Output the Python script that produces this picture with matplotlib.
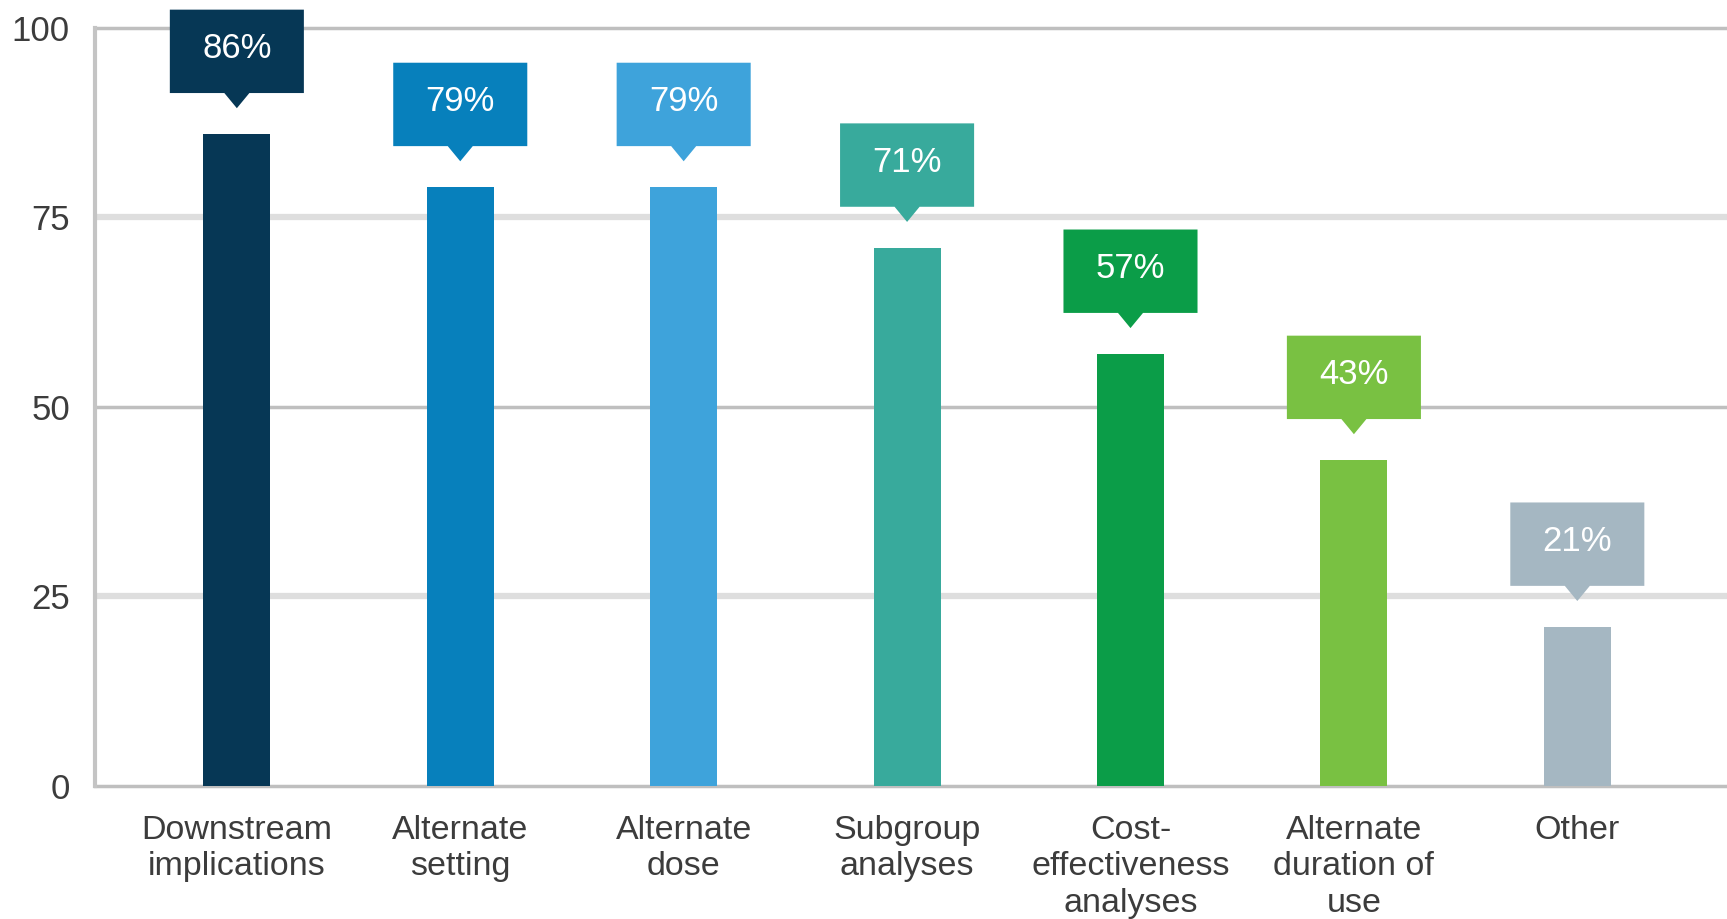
import matplotlib
matplotlib.use('Agg')
import matplotlib.pyplot as plt
from matplotlib.patches import Polygon

plt.rcParams['font.family'] = ['Liberation Sans', 'DejaVu Sans']

categories = ['Downstream\nimplications', 'Alternate\nsetting', 'Alternate\ndose',
              'Subgroup\nanalyses', 'Cost-\neffectiveness\nanalyses',
              'Alternate\nduration of\nuse', 'Other']
values = [86, 79, 79, 71, 57, 43, 21]
colors = ['#063755', '#0780BC', '#3EA3DB', '#38AA9C', '#0B9D48', '#79C142', '#A5B7C2']
yticks = [0, 25, 50, 75, 100]

fig = plt.figure(figsize=(17.27, 9.19), dpi=100)
ax = fig.add_axes([0.055, 0.1447, 0.945, 0.825])

x = list(range(len(values)))
ax.bar(x, values, width=0.30, color=colors, zorder=3)

# horizontal rules: 0/50/100 thin and darker, 25/75 thicker and lighter
for t in yticks:
    if t % 50 == 0:
        ax.axhline(t, color='#bfbfbf', lw=2.5, zorder=1, clip_on=False)
    else:
        ax.axhline(t, color='#dedede', lw=4.5, zorder=1)

# callout boxes with a small pointer over every bar
bw = 0.30   # half width of box
tw = 0.056  # half width of pointer
for xi, v, c in zip(x, values, colors):
    b0 = v + 5.4
    b1 = v + 16.4
    tip = v + 3.4
    pts = [(xi - bw, b0), (xi - tw, b0), (xi, tip), (xi + tw, b0),
           (xi + bw, b0), (xi + bw, b1), (xi - bw, b1)]
    ax.add_patch(Polygon(pts, closed=True, facecolor=c, edgecolor='none',
                         zorder=4, clip_on=False))
    ax.text(xi, v + 11.3, f'{v}%', color='white', fontsize=25,
            ha='center', va='center', zorder=5, clip_on=False)

ax.set_xlim(-0.635, 6.67)
ax.set_ylim(0, 100)
ax.set_yticks(yticks)
ax.set_xticks(x)
ax.set_xticklabels(categories, fontsize=24.5, color='#3c3c3c', linespacing=1.22,
                   va='top')
ax.tick_params(axis='y', labelsize=25, labelcolor='#3c3c3c', length=0, pad=18)
ax.tick_params(axis='x', length=0, pad=21)

for s in ['top', 'right', 'bottom']:
    ax.spines[s].set_visible(False)
ax.spines['left'].set_color('#c4c4c4')
ax.spines['left'].set_linewidth(3)

plt.savefig('out.png', dpi=100)
